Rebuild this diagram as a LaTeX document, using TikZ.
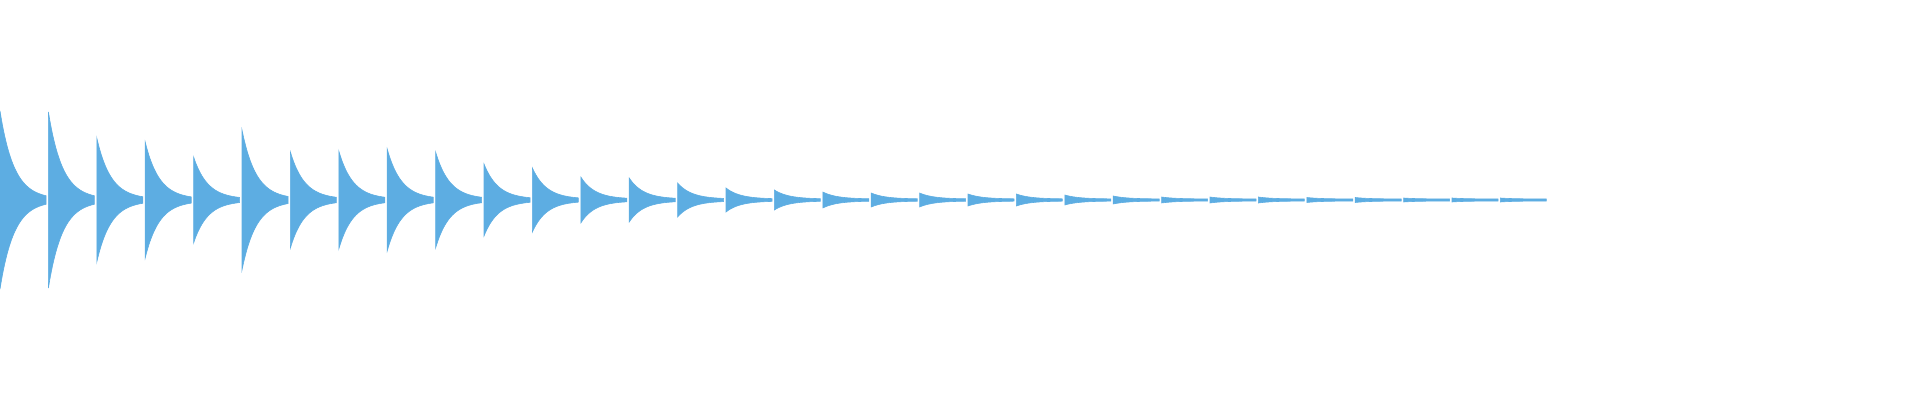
\documentclass[tikz,border=0pt]{standalone}
\begin{document}
\begin{tikzpicture}[x=0.5pt, y=-0.5pt]
    \definecolor{wavecol}{RGB}{93,173,226}
    \tikzset{wave/.style={fill=wavecol, draw=wavecol, line width=0.3pt}}
    \useasboundingbox (0,0) rectangle (1920,400);
    % Bursts
    \foreach \a [count=\i from 0] in {88,87,61,57,42,69,47,48,50,47,35,31,22,21,16,11,9,7,6,6,5,5,4,3,2,2,2,1.5,1.5,1,1,1}{
        \fill[wave] (\i*48.4,200)
            -- plot[domain=0:46, samples=40] ({\i*48.4+\x},{200-1-\a*exp(-\x/14)})
            -- plot[domain=46:0, samples=40] ({\i*48.4+\x},{200+1+\a*exp(-\x/14)})
            -- cycle;
    }
\end{tikzpicture}
\end{document}
